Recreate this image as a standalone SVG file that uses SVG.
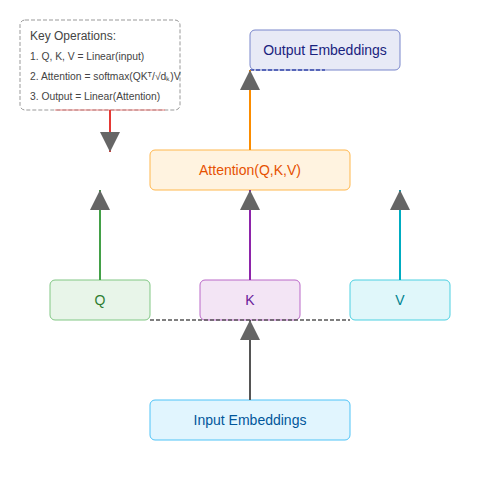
<svg xmlns="http://www.w3.org/2000/svg" width="500" height="500" viewBox="0 0 500 500">
  <defs>
    <marker id="arrow" viewBox="0 0 10 10" refX="10" refY="5" markerWidth="10" markerHeight="10" orient="auto">
      <path d="M0,0 L10,5 L0,10 z" fill="#666"/>
    </marker>
    <style>
      .box { stroke-width: 1; }
      .lbl { font-family: "Liberation Sans", Arial, sans-serif; font-size: 14px; text-anchor: middle; dominant-baseline: central; }
      .leg { font-family: "Liberation Sans", Arial, sans-serif; fill: #444; }
      .conn { stroke-width: 2; fill: none; marker-end: url(#arrow); }
    </style>
  </defs>
  <rect width="500" height="500" fill="#ffffff"/>

  <g id="legend">
    <rect x="20" y="20" width="160" height="90" rx="5" fill="#ffffff" stroke="#999" stroke-dasharray="4,2"/>
    <text class="leg" x="30" y="40" font-size="12">Key Operations:</text>
    <text class="leg" x="30" y="60" font-size="10.3">1. Q, K, V = Linear(input)</text>
    <text class="leg" x="30" y="80" font-size="10.3">2. Attention = softmax(QKᵀ/√dₖ)V</text>
    <text class="leg" x="30" y="100" font-size="10.3">3. Output = Linear(Attention)</text>
  </g>

  <g id="output">
    <rect class="box" x="250" y="30" width="150" height="40" rx="5" fill="#e8eaf6" stroke="#7986cb"/>
    <text class="lbl" x="325" y="50" fill="#1a237e">Output Embeddings</text>
  </g>

  <g id="attention">
    <rect class="box" x="150" y="150" width="200" height="40" rx="5" fill="#fff3e0" stroke="#ffb74d"/>
    <text class="lbl" x="250" y="170" fill="#e65100">Attention(Q,K,V)</text>
  </g>

  <g id="q">
    <rect class="box" x="50" y="280" width="100" height="40" rx="5" fill="#e8f5e9" stroke="#81c784"/>
    <text class="lbl" x="100" y="300" fill="#2e7d32">Q</text>
  </g>

  <g id="k">
    <rect class="box" x="200" y="280" width="100" height="40" rx="5" fill="#f3e5f5" stroke="#ba68c8"/>
    <text class="lbl" x="250" y="300" fill="#6a1b9a">K</text>
  </g>

  <g id="v">
    <rect class="box" x="350" y="280" width="100" height="40" rx="5" fill="#e0f7fa" stroke="#4dd0e1"/>
    <text class="lbl" x="400" y="300" fill="#00838f">V</text>
  </g>

  <g id="input">
    <rect class="box" x="150" y="400" width="200" height="40" rx="5" fill="#e1f5fe" stroke="#4fc3f7"/>
    <text class="lbl" x="250" y="420" fill="#01579b">Input Embeddings</text>
  </g>

  <g id="connectors">
    <line x1="150" y1="320" x2="350" y2="320" stroke="#555" stroke-width="1.5" stroke-dasharray="4,2"/>
    <line x1="250" y1="70" x2="325" y2="70" stroke="#3949ab" stroke-width="1.5" stroke-dasharray="4,2"/>
    <line x1="55" y1="110" x2="165" y2="110" stroke="#e53935" stroke-width="1" opacity="0.6"/>
    <line class="conn" x1="250" y1="400" x2="250" y2="320" stroke="#555"/>
    <line class="conn" x1="100" y1="280" x2="100" y2="190" stroke="#43a047"/>
    <line class="conn" x1="250" y1="280" x2="250" y2="190" stroke="#8e24aa"/>
    <line class="conn" x1="400" y1="280" x2="400" y2="190" stroke="#00acc1"/>
    <line class="conn" x1="250" y1="150" x2="250" y2="70" stroke="#fb8c00"/>
    <line class="conn" x1="110" y1="110" x2="110" y2="152" stroke="#e53935"/>
  </g>
</svg>
